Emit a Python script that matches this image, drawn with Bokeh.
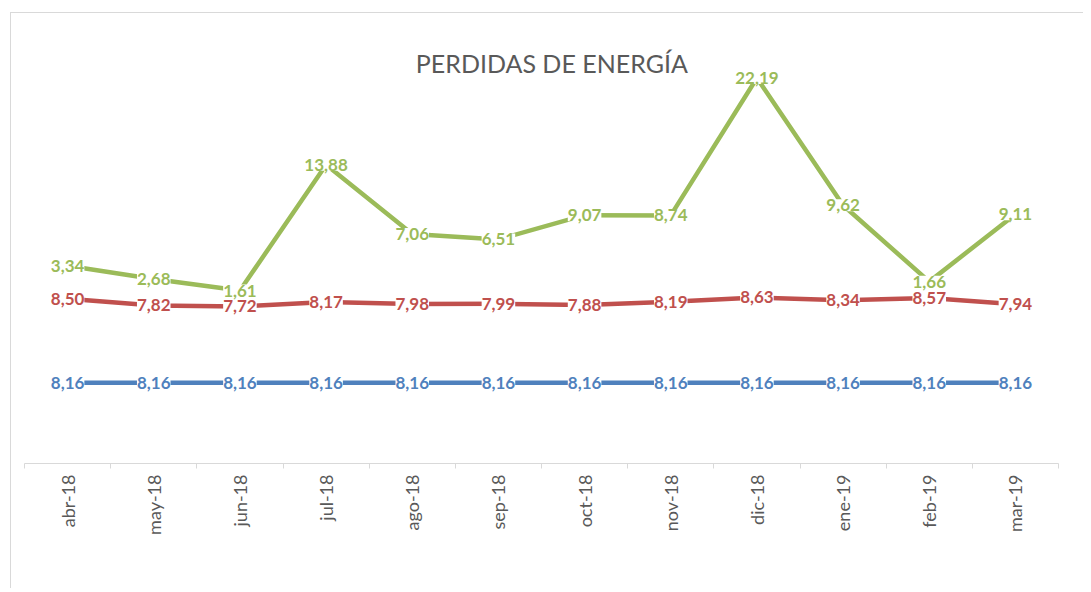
import math
from bokeh.plotting import figure
from bokeh.models import (ColumnDataSource, Range1d, FixedTicker, LabelSet, Label,
                          Legend, LegendItem)
from bokeh.core.properties import value
from bokeh.embed import file_html
from bokeh.resources import INLINE

# ---------------- data ----------------
months = ["abr-18", "may-18", "jun-18", "jul-18", "ago-18", "sep-18",
          "oct-18", "nov-18", "dic-18", "ene-19", "feb-19", "mar-19"]
meta = [8.16, 8.16, 8.16, 8.16, 8.16, 8.16, 8.16, 8.16, 8.16, 8.16, 8.16, 8.16]
ppe_movil = [8.50, 7.82, 7.72, 8.17, 7.98, 7.99, 7.88, 8.19, 8.63, 8.34, 8.57, 7.94]
ppe_mensual = [3.34, 2.68, 1.61, 13.88, 7.06, 6.51, 9.07, 8.74, 22.19, 9.62, 1.66, 9.11]
series_names = ["META", "PPE - MÓVIL %", "PPE - MENSUAL %"]

BLUE = "#4F81BD"
RED = "#C0504D"
GREEN = "#9BBB59"
GREY = "#595959"
FONT = "Lato"

# stacked line chart (as in the original spreadsheet chart)
xs = [i + 0.5 for i in range(len(months))]
y1 = list(meta)
y2 = [a + b for a, b in zip(y1, ppe_movil)]
y3 = [a + b for a, b in zip(y2, ppe_mensual)]


def fmt(v):
    return f"{v:.2f}".replace(".", ",")


src = ColumnDataSource(dict(
    x=xs, y1=y1, y2=y2, y3=y3,
    t1=[fmt(v) for v in meta],
    t2=[fmt(v) for v in ppe_movil],
    t3=[fmt(v) for v in ppe_mensual],
))

p = figure(frame_width=1034, frame_height=445,
           x_range=Range1d(0, 12), y_range=Range1d(0, 45),
           output_backend="svg", toolbar_location=None, y_axis_location=None,
           min_border_left=24, min_border_right=25, min_border_top=18,
           min_border_bottom=125)
p.outline_line_color = None
p.background_fill_color = "white"
p.border_fill_color = None
p.xgrid.grid_line_color = None
p.ygrid.grid_line_color = None
# light chart-area border (left and top edges)
p.styles = {"box-shadow": "inset 10px 12px 0 0 #ffffff, inset 11px 13px 0 0 #D9D9D9"}

# x axis
ax = p.xaxis[0]
ax.ticker = FixedTicker(ticks=xs, minor_ticks=list(range(len(months) + 1)))
ax.major_label_overrides = {x: m for x, m in zip(xs, months)}
ax.major_label_orientation = math.pi / 2
ax.major_tick_line_color = None
ax.major_tick_out = 0
ax.major_tick_in = 0
ax.minor_tick_line_color = "#D9D9D9"
ax.minor_tick_out = 5
ax.minor_tick_in = 0
ax.axis_line_color = "#D9D9D9"
ax.axis_line_width = 1
ax.major_label_standoff = 6
ax.major_label_text_font = FONT
ax.major_label_text_font_size = "18px"
ax.major_label_text_color = GREY

# lines
for col, color in (("y1", BLUE), ("y2", RED), ("y3", GREEN)):
    p.line("x", col, source=src, line_color=color, line_width=4.5,
           line_join="round", line_cap="round")

# data labels
for ycol, tcol, color in (("y1", "t1", BLUE), ("y2", "t2", RED), ("y3", "t3", GREEN)):
    ls = LabelSet(x="x", y=ycol, text=tcol, source=src,
                  text_align="center", text_baseline="middle",
                  text_font=value(FONT), text_font_style="bold",
                  text_font_size="17px", text_color=color,
                  background_fill_color="white")
    try:
        ls.padding = 3
    except Exception:
        pass
    p.add_layout(ls)

# title
p.add_layout(Label(x=6.12, y=40.5, text="PERDIDAS DE ENERGÍA",
                   text_align="center", text_baseline="middle",
                   text_font=FONT, text_font_size="25px", text_color=GREY))

# legend (dashed samples as in the original), positioned in screen units
# relative to the plot frame so that it sits under the axis labels
nan = float("nan")
dummies = []
for color in (BLUE, RED, GREEN):
    dummies.append(p.line(x=[nan], y=[nan], line_color=color, line_width=4,
                          line_dash="18 8"))
legend = Legend(items=[LegendItem(label=n, renderers=[r]) for n, r in zip(series_names, dummies)],
                orientation="horizontal", location=(290, -115),
                border_line_color=None, background_fill_alpha=0,
                padding=0, margin=0, spacing=28, glyph_width=45, glyph_height=20,
                label_height=20, label_standoff=3, label_text_font=FONT,
                label_text_font_size="17px", label_text_color=GREY)
try:
    legend.nrows = 1
except Exception:
    pass
p.add_layout(legend)

open("out.html", "w").write(file_html(p, INLINE))
